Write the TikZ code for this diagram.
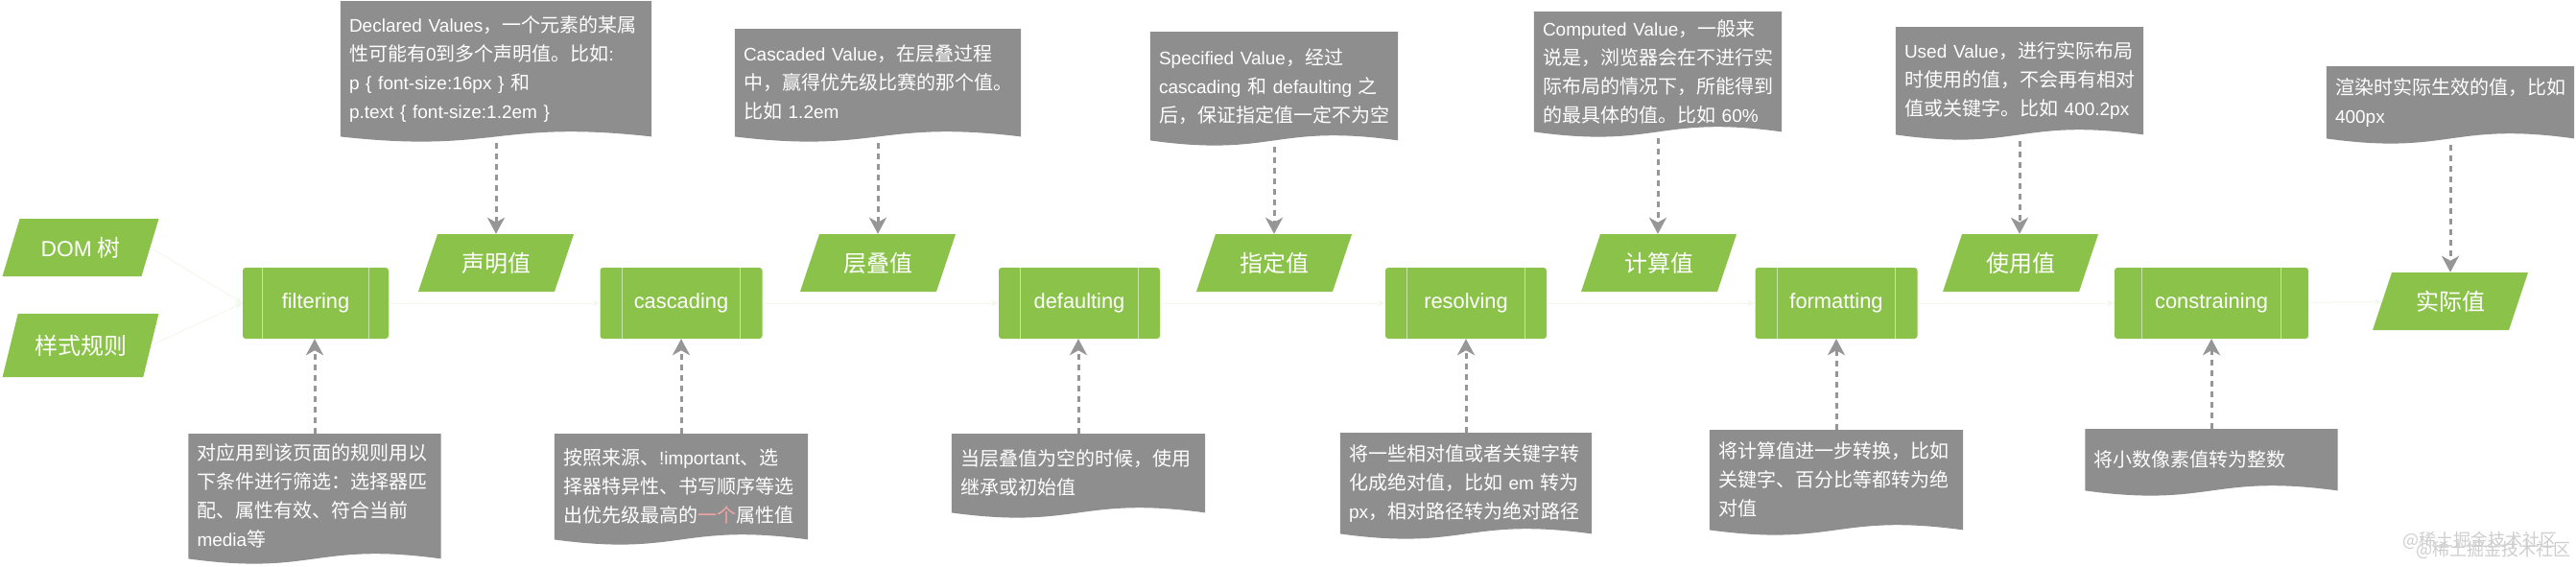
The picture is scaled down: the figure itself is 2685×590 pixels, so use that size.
\documentclass[tikz,border=0pt]{standalone}
\usepackage{fontspec}
\setmainfont{Noto Sans CJK SC}
\newfontfamily\latfont{Liberation Sans}[Scale=0.95]
\newcommand\lat[1]{{\latfont #1}}
\usetikzlibrary{backgrounds, shapes.geometric, arrows.meta}

\definecolor{leaf}{RGB}{139,195,74}
\definecolor{leafline}{RGB}{200,228,168}
\definecolor{notegray}{RGB}{142,142,142}
\definecolor{arrowgray}{RGB}{150,150,150}
\definecolor{faint}{RGB}{243,248,237}
\definecolor{pinkred}{RGB}{240,165,165}
\definecolor{mark}{RGB}{205,205,205}

\tikzset{
  value/.style={trapezium, trapezium left angle=62, trapezium right angle=118,
    trapezium stretches=true, fill=leaf, text=white, minimum width=163pt,
    minimum height=60pt, inner sep=0pt, font=\fontsize{24}{24}\selectfont},
  process/.style={rectangle, rounded corners=3pt, fill=leaf, text=white,
    minimum height=74pt, inner sep=0pt, font=\latfont\fontsize{23}{23}\selectfont},
  note/.style={rectangle, anchor=north, text=white, align=left, inner xsep=9pt,
    inner ysep=0pt, font=\fontsize{20}{30}\selectfont},
  hint/.style={draw=arrowgray, line width=3pt, dash pattern=on 6pt off 5pt,
    -{Stealth[length=17pt,width=18pt,inset=5pt]}},
  flow/.style={draw=faint, line width=1pt, -{Stealth[length=8pt,width=7pt]}}
}

\begin{document}
\begin{tikzpicture}[x=1pt, y=-1pt]
  \useasboundingbox (0,0) rectangle (2685,590);

  % inputs and values
  \node[value] (dom) at (84,258) {\lat{DOM} 树};
  \node[value, minimum height=66pt] (rules) at (84,360) {样式规则};
  \node[value] (declared) at (517,274) {声明值};
  \node[value] (cascaded) at (915,274) {层叠值};
  \node[value] (specified) at (1328,274) {指定值};
  \node[value] (computed) at (1729,274) {计算值};
  \node[value] (used) at (2106,274) {使用值};
  \node[value] (actual) at (2554,314) {实际值};

  % processing steps
  \node[process, minimum width=152pt] (filtering) at (329,316) {filtering};
  \node[process, minimum width=169pt] (cascading) at (710,316) {cascading};
  \node[process, minimum width=168pt] (defaulting) at (1125,316) {defaulting};
  \node[process, minimum width=168pt] (resolving) at (1528,316) {resolving};
  \node[process, minimum width=169pt] (formatting) at (1914,316) {formatting};
  \node[process, minimum width=202pt] (constraining) at (2305,316) {constraining};
  \foreach \p/\d in {filtering/21, cascading/23, defaulting/23, resolving/23, formatting/23, constraining/29}
    \draw[leafline, line width=1pt] ([xshift=\d pt]\p.north west) -- ([xshift=\d pt]\p.south west)
      ([xshift=-\d pt]\p.north east) -- ([xshift=-\d pt]\p.south east);

  % notes above
  \node[note, minimum width=324pt, text width=306pt, minimum height=141pt] (n-declared) at (517,1)
    {\lat{Declared~Values}，一个元素的某属\\性可能有\lat{0}到多个声明值。比如\lat{:}\\\lat{p~\{ font-size:16px \}}~和\\\lat{p.text~\{ font-size:1.2em \}}};
  \node[note, minimum width=298pt, text width=280pt, minimum height=112pt] (n-cascaded) at (915,30)
    {\lat{Cascaded~Value}，在层叠过程\\中，赢得优先级比赛的那个值。\\比如~\lat{1.2em}};
  \node[note, minimum width=258pt, text width=240pt, minimum height=113pt] (n-specified) at (1328,33)
    {\lat{Specified~Value}，经过\\\lat{cascading}~和~\lat{defaulting}~之\\后，保证指定值一定不为空};
  \node[note, minimum width=258pt, text width=240pt, minimum height=125pt] (n-computed) at (1728,12)
    {\lat{Computed~Value}，一般来\\说是，浏览器会在不进行实\\际布局的情况下，所能得到\\的最具体的值。比如~\lat{60\%}};
  \node[note, minimum width=258pt, text width=240pt, minimum height=112pt] (n-used) at (2105,28)
    {\lat{Used~Value}，进行实际布局\\时使用的值，不会再有相对\\值或关键字。比如~\lat{400.2px}};
  \node[note, minimum width=258pt, text width=240pt, minimum height=75pt] (n-actual) at (2554,69)
    {渲染时实际生效的值，比如\\\lat{400px}};

  % notes below
  \node[note, minimum width=263pt, text width=245pt, minimum height=130pt] (n-filtering) at (328,452)
    {对应用到该页面的规则用以\\下条件进行筛选：选择器匹\\配、属性有效、符合当前\\\lat{media}等};
  \node[note, minimum width=264pt, text width=246pt, minimum height=110pt] (n-cascading) at (710,452)
    {按照来源、\lat{!important}、选\\择器特异性、书写顺序等选\\出优先级最高的{\color{pinkred}一个}属性值};
  \node[note, minimum width=264pt, text width=246pt, minimum height=82pt] (n-defaulting) at (1124,452)
    {当层叠值为空的时候，使用\\继承或初始值};
  \node[note, minimum width=262pt, text width=244pt, minimum height=105pt] (n-resolving) at (1528,451)
    {将一些相对值或者关键字转\\化成绝对值，比如~\lat{em}~转为\\\lat{px}，相对路径转为绝对路径};
  \node[note, minimum width=264pt, text width=246pt, minimum height=104pt] (n-formatting) at (1914,448)
    {将计算值进一步转换，比如\\关键字、百分比等都转为绝\\对值};
  \node[note, minimum width=263pt, text width=245pt, minimum height=64pt] (n-constraining) at (2305,447)
    {将小数像素值转为整数};

  \begin{scope}[on background layer]
    \foreach \n in {n-declared, n-cascaded, n-specified, n-computed, n-used, n-actual,
        n-filtering, n-cascading, n-defaulting, n-resolving, n-formatting, n-constraining}
      \fill[notegray] (\n.north west) -- (\n.north east) -- (\n.south east)
        .. controls ([yshift=18pt]\n.south) and ([yshift=-18pt]\n.south) .. (\n.south west) -- cycle;
  \end{scope}

  % hints
  \foreach \n/\v in {declared/declared, cascaded/cascaded, specified/specified,
      computed/computed, used/used, actual/actual}
    \draw[hint, shorten <=7pt] (n-\n.south) -- (n-\n.south |- \v.north);
  \foreach \n in {filtering, cascading, defaulting, resolving, formatting, constraining}
    \draw[hint] (n-\n.north) -- (n-\n.north |- \n.south);

  % faint flow
  \draw[flow] (dom.east) -- (filtering.west);
  \draw[flow] (rules.east) -- (filtering.west);
  \draw[flow] (filtering) -- (cascading);
  \draw[flow] (cascading) -- (defaulting);
  \draw[flow] (defaulting) -- (resolving);
  \draw[flow] (resolving) -- (formatting);
  \draw[flow] (formatting) -- (constraining);
  \draw[flow] (constraining) -- (actual);

  \node[text=mark, font=\fontsize{18}{18}\selectfont] (mark1) at (2585,563) {@稀土掘金技术社区};
  \node[text=mark, font=\fontsize{18}{18}\selectfont] (mark2) at (2599,573) {@稀土掘金技术社区};
\end{tikzpicture}
\end{document}
